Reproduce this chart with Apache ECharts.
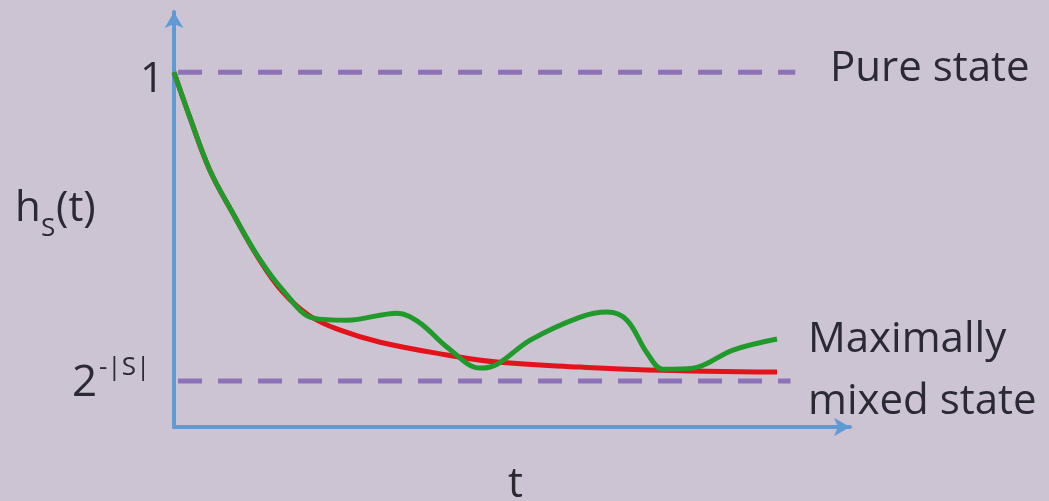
<!DOCTYPE html>
<html>
<head>
<meta charset="utf-8">
<script src="https://cdn.jsdelivr.net/npm/echarts@6/dist/echarts.min.js"></script>
<style>html,body{margin:0;padding:0;background:#cdc4d3;}#c{width:1049px;height:501px;}</style>
</head>
<body>
<div id="c"></div>
<script>
// time axis (arbitrary units) and h_S(t) values
var redT = [0, 0.24, 0.53, 0.86, 1.24, 1.61, 2.01, 2.46, 3.05, 4.04, 4.78, 6.01, 7.0, 8.92];
var redH = [1.0, 0.87, 0.724, 0.606, 0.479, 0.38, 0.313, 0.273, 0.239, 0.203, 0.183, 0.169, 0.161, 0.155];
var greenT = [0, 0.24, 0.53, 0.86, 1.24, 1.61, 2.06, 2.56, 3.3, 3.64, 4.04, 4.53, 4.78, 5.27, 6.01, 6.41, 6.7, 7.0, 7.23, 7.68, 8.27, 8.92];
var greenH = [1.0, 0.87, 0.724, 0.606, 0.481, 0.386, 0.307, 0.301, 0.321, 0.293, 0.225, 0.166, 0.177, 0.245, 0.31, 0.324, 0.301, 0.208, 0.163, 0.166, 0.217, 0.248];
var pureLevel = 1.0;
var mixedLevel = 0.13;
var pureSpan = [0.06, 9.19];
var mixedSpan = [0.06, 9.12];

function pairs(xs, ys) { return xs.map(function (x, i) { return [x, ys[i]]; }); }

var FONT = '"Open Sans", sans-serif';
var TXT = '#2b2a33';
function label(x, y, txt, size) {
  return {type: 'text', left: x, top: y, style: {text: txt, font: size + 'px ' + FONT, fill: TXT}};
}
var chart = echarts.init(document.getElementById('c'), null, {renderer: 'canvas'});
chart.setOption({
  backgroundColor: '#cdc4d3',
  animation: false,
  grid: {left: 174, right: 199, top: 12, bottom: 74},
  xAxis: {
    type: 'value', min: 0, max: 10,
    axisLine: {show: true, symbol: ['none', 'arrow'], symbolSize: [14, 16], lineStyle: {color: '#5f9ad5', width: 4}},
    axisTick: {show: false}, axisLabel: {show: false}, splitLine: {show: false}
  },
  yAxis: {
    type: 'value', min: 0, max: 1.17,
    axisLine: {show: true, symbol: ['none', 'arrow'], symbolSize: [14, 16], lineStyle: {color: '#5f9ad5', width: 4}},
    axisTick: {show: false}, axisLabel: {show: false}, splitLine: {show: false}
  },
  series: [
    {type: 'line', data: [[pureSpan[0], pureLevel], [pureSpan[1], pureLevel]], symbol: 'none',
     lineStyle: {color: '#8e72b8', width: 5, type: [24, 16]}, z: 1},
    {type: 'line', data: [[mixedSpan[0], mixedLevel], [mixedSpan[1], mixedLevel]], symbol: 'none',
     lineStyle: {color: '#8e72b8', width: 5, type: [24, 16]}, z: 1},
    {type: 'line', data: pairs(redT, redH), symbol: 'none', smooth: 0.4,
     lineStyle: {color: '#e3121b', width: 5}, z: 2},
    {type: 'line', data: pairs(greenT, greenH), symbol: 'none', smooth: 0.35,
     lineStyle: {color: '#1f9a2b', width: 5}, z: 3}
  ],
  graphic: [
    label(140, 59, '1', 42),
    label(72, 361, '2', 44),
    label(99, 355, '-|S|', 26),
    label(15, 188, 'h', 42),
    label(41, 216, 'S', 26),
    label(56, 188, '(t)', 42),
    label(508, 464, 't', 42),
    label(830, 48, 'Pure state', 42),
    label(808, 319, 'Maximally', 42),
    label(808, 381, 'mixed state', 42)
  ]
});
</script>
</body>
</html>
